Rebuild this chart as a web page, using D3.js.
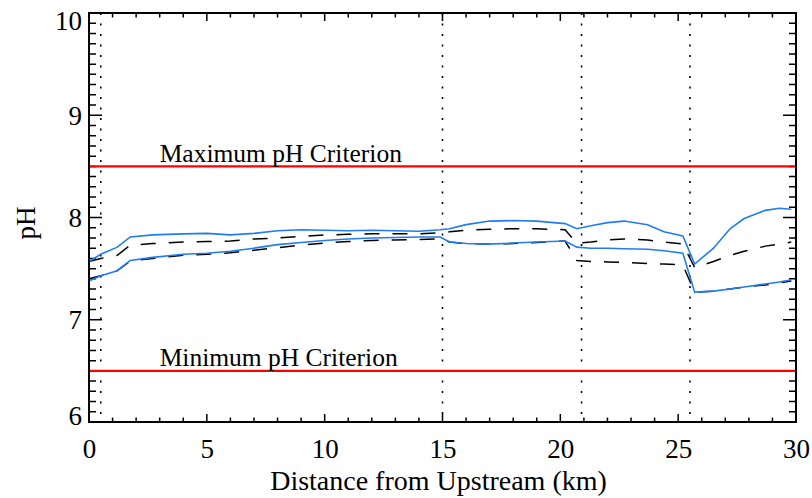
<!DOCTYPE html>
<html>
<head>
<meta charset="utf-8">
<script src="https://cdn.jsdelivr.net/npm/d3@7"></script>
<style>
  body { margin: 0; background: #fff; }
  svg text { font-family: 'Liberation Serif', 'Times New Roman', serif; fill: #000; }
</style>
</head>
<body>
<script>
var dist = [0, 0.5, 1.2, 1.75, 2.7, 4, 5, 6, 7, 8, 9, 10, 11, 12, 13, 14, 14.9, 15.3, 16, 17, 18, 19, 20.2, 20.7, 21.3, 22, 22.7, 23.7, 24.4, 25.2, 25.7, 26.5, 27.2, 27.8, 28.7, 29.3, 29.8];
var blueUpper = [7.57, 7.64, 7.71, 7.81, 7.83, 7.84, 7.845, 7.83, 7.845, 7.87, 7.88, 7.875, 7.87, 7.875, 7.87, 7.865, 7.88, 7.89, 7.93, 7.965, 7.97, 7.965, 7.94, 7.89, 7.92, 7.95, 7.965, 7.93, 7.86, 7.82, 7.545, 7.70, 7.89, 7.99, 8.07, 8.09, 8.08];
var blueLower = [7.38, 7.43, 7.48, 7.58, 7.61, 7.64, 7.65, 7.67, 7.70, 7.735, 7.755, 7.775, 7.79, 7.80, 7.805, 7.81, 7.81, 7.76, 7.745, 7.74, 7.75, 7.76, 7.77, 7.71, 7.70, 7.70, 7.695, 7.69, 7.675, 7.65, 7.27, 7.28, 7.30, 7.32, 7.35, 7.37, 7.39];
var dashUpper = [7.57, 7.60, 7.63, 7.73, 7.745, 7.76, 7.765, 7.77, 7.79, 7.80, 7.815, 7.83, 7.835, 7.84, 7.84, 7.84, 7.85, 7.86, 7.875, 7.885, 7.89, 7.89, 7.88, 7.75, 7.76, 7.78, 7.79, 7.78, 7.76, 7.74, 7.51, 7.57, 7.63, 7.67, 7.72, 7.74, 7.76];
var dashLower = [7.40, 7.43, 7.48, 7.575, 7.60, 7.63, 7.64, 7.655, 7.68, 7.705, 7.73, 7.75, 7.765, 7.775, 7.78, 7.785, 7.79, 7.76, 7.745, 7.74, 7.745, 7.755, 7.77, 7.58, 7.57, 7.565, 7.56, 7.55, 7.545, 7.535, 7.27, 7.28, 7.30, 7.32, 7.34, 7.36, 7.38];
var criteria = [8.5, 6.5];
var criteriaLabels = ['Maximum pH Criterion', 'Minimum pH Criterion'];
var reaches = [0.5, 15, 20.9, 25.5];
var xTicks = [0, 5, 10, 15, 20, 25, 30];
var yTicks = [6, 7, 8, 9, 10];

var width = 812, height = 498;
var margin = {top: 13, right: 16, bottom: 76, left: 89};
var w = width - margin.left - margin.right,
    h = height - margin.top - margin.bottom;

var svg = d3.select('body').append('svg')
  .attr('width', width)
  .attr('height', height);

var plot = svg.append('g')
  .attr('transform', 'translate(' + margin.left + ',' + margin.top + ')');

var x = d3.scaleLinear().domain([0, 30]).range([0, w]);
var y = d3.scaleLinear().domain([6, 10]).range([h, 0]);

var xAll = d3.range(0, 31, 1);
var yAll = d3.range(60, 101, 1).map(function(d) { return d / 10; });

// labels from d3 axes, tick marks drawn below
var xb = plot.append('g')
  .attr('transform', 'translate(0,' + h + ')')
  .call(d3.axisBottom(x).tickValues(xTicks).tickSize(0).tickPadding(17).tickFormat(d3.format('d')));
var yl = plot.append('g')
  .call(d3.axisLeft(y).tickValues(yTicks).tickSize(0).tickPadding(7).tickFormat(d3.format('d')));
xb.select('.domain').remove();
yl.select('.domain').remove();

xb.selectAll('text').style('font-size', '27px').attr('dy', '0.71em');
yl.selectAll('text').style('font-size', '27px')
  .attr('dy', function(d) { return d === 10 ? '0.62em' : (d === 6 ? '0.1em' : '0.33em'); });

// inward ticks on all four sides (IDL style box), one path
var tp = d3.path();
xAll.forEach(function(d) {
  var len = d % 5 === 0 ? 8 : 4.5;
  tp.moveTo(x(d), h); tp.lineTo(x(d), h - len);
  tp.moveTo(x(d), 0); tp.lineTo(x(d), len);
});
yAll.forEach(function(d, i) {
  var len = i % 10 === 0 ? 13 : 7;
  tp.moveTo(0, y(d)); tp.lineTo(len, y(d));
  tp.moveTo(w, y(d)); tp.lineTo(w - len, y(d));
});
plot.append('path')
  .attr('class', 'ticks')
  .attr('d', tp.toString())
  .attr('fill', 'none')
  .attr('stroke', '#000')
  .attr('stroke-width', 1.5);

// reach boundaries
plot.selectAll('.reach')
  .data(reaches)
  .enter()
  .append('line')
  .attr('class', 'reach')
  .attr('x1', function(d) { return x(d); })
  .attr('x2', function(d) { return x(d); })
  .attr('y1', 0)
  .attr('y2', h)
  .attr('stroke', '#000')
  .attr('stroke-width', 1.6)
  .attr('stroke-dasharray', '2,8.5');

// criteria
plot.selectAll('.crit')
  .data(criteria)
  .enter()
  .append('line')
  .attr('class', 'crit')
  .attr('x1', 0)
  .attr('x2', w)
  .attr('y1', function(d) { return y(d); })
  .attr('y2', function(d) { return y(d); })
  .attr('stroke', '#ff0000')
  .attr('stroke-width', 2.2);

plot.selectAll('.crit-label')
  .data(criteria)
  .enter()
  .append('text')
  .attr('class', 'crit-label')
  .attr('x', x(3))
  .attr('y', function(d) { return y(d) - 4.5; })
  .style('font-size', '25.5px')
  .text(function(d, i) { return criteriaLabels[i]; });

var line = d3.line()
  .x(function(d) { return x(d[0]); })
  .y(function(d) { return y(d[1]); });

function series(vals) {
  return dist.map(function(d, i) { return [d, vals[i]]; });
}

[dashUpper, dashLower].forEach(function(s) {
  plot.append('path')
    .datum(series(s))
    .attr('d', line)
    .attr('fill', 'none')
    .attr('stroke', '#000')
    .attr('stroke-width', 1.5)
    .attr('stroke-dasharray', '15,13');
});

[blueUpper, blueLower].forEach(function(s) {
  plot.append('path')
    .datum(series(s))
    .attr('d', line)
    .attr('fill', 'none')
    .attr('stroke', '#1f7cf2')
    .attr('stroke-width', 1.6);
});

// frame
plot.append('rect')
  .attr('width', w)
  .attr('height', h)
  .attr('fill', 'none')
  .attr('stroke', '#000')
  .attr('stroke-width', 2);

svg.append('text')
  .attr('x', margin.left + w / 2 - 4)
  .attr('y', 490)
  .attr('text-anchor', 'middle')
  .style('font-size', '28px')
  .text('Distance from Upstream (km)');

svg.append('text')
  .attr('transform', 'translate(35,' + 223 + ') rotate(-90)')
  .attr('text-anchor', 'middle')
  .style('font-size', '27px')
  .text('pH');
</script>
</body>
</html>
